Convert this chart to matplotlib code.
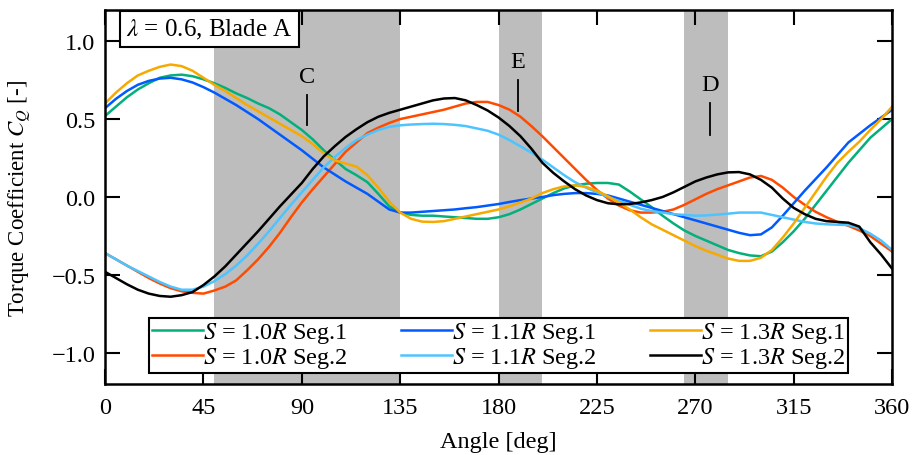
#%%
import numpy as np
import matplotlib
matplotlib.use("Agg")
import matplotlib.pyplot as plt
from matplotlib.ticker import FuncFormatter

plt.rcParams['font.family'] = ['Liberation Serif', 'DejaVu Serif']
plt.rcParams['mathtext.fontset'] = 'stix'
plt.rcParams['font.size'] = 17.5

#%% data (torque coefficient vs. angle, every 5 deg)
angle = list(range(0, 361, 5))

s10_seg1 = [0.52, 0.58, 0.64, 0.69, 0.73, 0.765, 0.78, 0.785, 0.775, 0.755, 0.73, 0.70, 0.665,
            0.635, 0.60, 0.57, 0.53, 0.48, 0.43, 0.37, 0.30, 0.24, 0.18, 0.14, 0.095, 0.02,
            -0.06, -0.10, -0.115, -0.12, -0.12, -0.125, -0.13, -0.135, -0.14, -0.14, -0.13,
            -0.11, -0.08, -0.045, -0.01, 0.025, 0.055, 0.075, 0.085, 0.09, 0.09, 0.08, 0.035,
            -0.015, -0.065, -0.12, -0.17, -0.215, -0.25, -0.28, -0.31, -0.34, -0.36, -0.375,
            -0.38, -0.35, -0.29, -0.22, -0.14, -0.05, 0.04, 0.13, 0.22, 0.30, 0.38, 0.44, 0.50]
s10_seg2 = [-0.36, -0.40, -0.44, -0.48, -0.52, -0.555, -0.585, -0.605, -0.615, -0.62, -0.60,
            -0.575, -0.535, -0.47, -0.40, -0.32, -0.23, -0.13, -0.035, 0.05, 0.13, 0.21, 0.29,
            0.35, 0.41, 0.445, 0.475, 0.50, 0.515, 0.53, 0.545, 0.56, 0.58, 0.60, 0.61, 0.61,
            0.59, 0.56, 0.515, 0.455, 0.39, 0.32, 0.25, 0.18, 0.11, 0.045, -0.01, -0.055,
            -0.085, -0.10, -0.10, -0.095, -0.08, -0.05, -0.015, 0.02, 0.05, 0.075, 0.10, 0.125,
            0.135, 0.11, 0.06, 0.0, -0.05, -0.095, -0.13, -0.16, -0.185, -0.215, -0.25, -0.30,
            -0.35]
s11_seg1 = [0.57, 0.63, 0.68, 0.72, 0.745, 0.76, 0.765, 0.755, 0.735, 0.705, 0.67, 0.63, 0.59,
            0.545, 0.50, 0.45, 0.40, 0.35, 0.30, 0.245, 0.19, 0.145, 0.10, 0.06, 0.02, -0.03,
            -0.08, -0.10, -0.10, -0.095, -0.09, -0.085, -0.08, -0.072, -0.065, -0.055, -0.045,
            -0.032, -0.02, -0.01, 0.0, 0.012, 0.02, 0.025, 0.025, 0.02, 0.01, -0.01, -0.03,
            -0.05, -0.07, -0.09, -0.11, -0.13, -0.15, -0.17, -0.19, -0.21, -0.23, -0.245,
            -0.24, -0.195, -0.12, -0.04, 0.04, 0.115, 0.19, 0.27, 0.35, 0.405, 0.46, 0.51, 0.56]
s11_seg2 = [-0.36, -0.40, -0.44, -0.475, -0.51, -0.545, -0.575, -0.595, -0.595, -0.575, -0.54,
            -0.495, -0.44, -0.375, -0.30, -0.22, -0.135, -0.05, 0.03, 0.11, 0.19, 0.255, 0.315,
            0.365, 0.40, 0.43, 0.45, 0.46, 0.465, 0.468, 0.47, 0.468, 0.463, 0.455, 0.44, 0.425,
            0.40, 0.365, 0.325, 0.285, 0.24, 0.19, 0.14, 0.095, 0.06, 0.03, 0.0, -0.025, -0.05,
            -0.075, -0.09, -0.10, -0.11, -0.115, -0.12, -0.118, -0.113, -0.107, -0.10, -0.10,
            -0.10, -0.115, -0.13, -0.145, -0.16, -0.17, -0.175, -0.178, -0.18, -0.20, -0.235,
            -0.28, -0.34]
s13_seg1 = [0.60, 0.67, 0.73, 0.78, 0.81, 0.835, 0.85, 0.84, 0.81, 0.765, 0.72, 0.68, 0.635,
            0.59, 0.55, 0.51, 0.47, 0.43, 0.39, 0.34, 0.28, 0.235, 0.215, 0.195, 0.14, 0.06,
            -0.03, -0.10, -0.14, -0.158, -0.16, -0.155, -0.14, -0.125, -0.11, -0.095, -0.08,
            -0.06, -0.035, -0.01, 0.025, 0.05, 0.068, 0.075, 0.065, 0.04, 0.005, -0.035, -0.08,
            -0.13, -0.175, -0.21, -0.245, -0.28, -0.315, -0.345, -0.37, -0.395, -0.41, -0.41,
            -0.39, -0.34, -0.26, -0.17, -0.07, 0.03, 0.13, 0.22, 0.29, 0.355, 0.43, 0.50, 0.58]
s13_seg2 = [-0.48, -0.52, -0.56, -0.595, -0.62, -0.635, -0.64, -0.63, -0.61, -0.565, -0.51,
            -0.445, -0.37, -0.295, -0.22, -0.14, -0.06, 0.015, 0.09, 0.18, 0.26, 0.325, 0.385,
            0.435, 0.48, 0.515, 0.54, 0.56, 0.58, 0.60, 0.62, 0.632, 0.635, 0.62, 0.59, 0.555,
            0.51, 0.455, 0.39, 0.31, 0.22, 0.155, 0.10, 0.05, 0.01, -0.02, -0.04, -0.047,
            -0.045, -0.035, -0.02, 0.0, 0.03, 0.065, 0.10, 0.125, 0.145, 0.158, 0.16, 0.145,
            0.11, 0.06, -0.01, -0.07, -0.11, -0.14, -0.155, -0.16, -0.165, -0.19, -0.29, -0.37,
            -0.46]

labels = ['$S$ = 1.0$R$ Seg.1', '$S$ = 1.0$R$ Seg.2',
          '$S$ = 1.1$R$ Seg.1', '$S$ = 1.1$R$ Seg.2',
          '$S$ = 1.3$R$ Seg.1', '$S$ = 1.3$R$ Seg.2']
colors = ['#03AF7A', '#FF4B00', '#005AFF', '#4DC4FF', '#F6AA00', '#000000']

# shaded angle ranges and their markers
regions = [(50, 135), (180, 200), (265, 285)]
marks = ['C', 'E', 'D']
mark_x = [92.3, 188.7, 276.8]
mark_top = [0.656, 0.75, 0.605]
mark_bottom = [0.465, 0.55, 0.40]

#%%
fig = plt.figure(figsize=(9.15, 4.56), dpi=100)
ax = fig.add_axes([0.1148, 0.1557, 0.8602, 0.8202])

for lo, hi in regions:
    ax.axvspan(lo, hi, color='#bdbdbd', lw=0, zorder=0)

series = [s10_seg1, s10_seg2, s11_seg1, s11_seg2, s13_seg1, s13_seg2]
for vals, lab, col in zip(series, labels, colors):
    ax.plot(angle, vals, color=col, lw=1.8, label=lab)

for m, x, y0, y1 in zip(marks, mark_x, mark_top, mark_bottom):
    ax.plot([x, x], [y0, y1], color='black', lw=1.3)
    ax.text(x, y0 + 0.05, m, ha='center', va='bottom')

ax.text(0.133, 0.949, r'$\lambda$ = 0.6, Blade A', transform=ax.transAxes,
        ha='center', va='center', fontsize=18,
        bbox=dict(boxstyle='square,pad=0.25', fc='white', ec='black', lw=1.5))

ax.set_xlim(0, 360)
ax.set_ylim(-1.2, 1.2)
ax.set_xticks(np.arange(0, 361, 45))
ax.set_yticks([-1.0, -0.5, 0.0, 0.5, 1.0])
ax.yaxis.set_major_formatter(FuncFormatter(lambda v, p: f'{v:.1f}'.replace('-', '\u2212')))
ax.tick_params(direction='in', length=10.5, width=1.5, top=True, right=True, labelsize=17.5)
ax.tick_params(axis='x', pad=9)
ax.tick_params(axis='y', pad=7)
for sp in ax.spines.values():
    sp.set_linewidth(1.8)

ax.set_xlabel('Angle [deg]', labelpad=10)
ax.set_ylabel('Torque Coefficient $C_Q$ [-]', fontsize=16.5, labelpad=13)

leg = ax.legend(ncol=3, loc='lower center', bbox_to_anchor=(0.5, 0.03),
                fancybox=False, framealpha=1, edgecolor='black',
                handlelength=2.1, handletextpad=0.0, columnspacing=2.2,
                borderpad=0.1, labelspacing=0.0, borderaxespad=0)
leg.get_frame().set_linewidth(1.5)

fig.savefig('out.png', dpi=100)
